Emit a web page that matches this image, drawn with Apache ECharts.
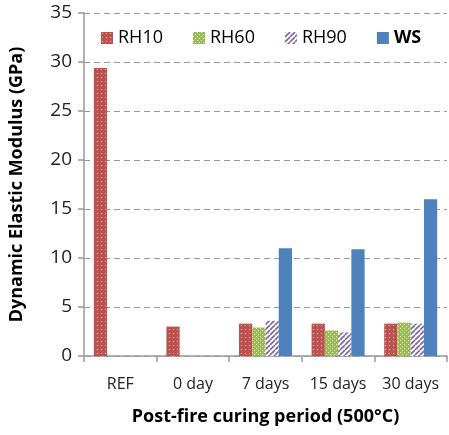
<!DOCTYPE html>
<html><head><meta charset="utf-8">
<script src="https://cdn.jsdelivr.net/npm/echarts@6/dist/echarts.min.js"></script>
<style>html,body{margin:0;padding:0;background:#fff}#c{width:449px;height:435px}</style>
</head><body><div id="c"></div>
<script>
const categories = ['REF', '0 day', '7 days', '15 days', '30 days'];
const seriesNames = ['RH10', 'RH60', 'RH90', 'WS'];
const rh10 = [29.4, 3.0, 3.3, 3.3, 3.3];
const rh60 = [null, null, 2.9, 2.6, 3.4];
const rh90 = [null, null, 3.6, 2.4, 3.3];
const ws = [null, null, 11.0, 10.9, 16.0];
const yTicks = [0, 5, 10, 15, 20, 25, 30, 35];

function dotPattern(bg, size, r) {
  const c = document.createElement('canvas'); c.width = size; c.height = size;
  const g = c.getContext('2d'); g.fillStyle = bg; g.fillRect(0, 0, size, size);
  g.fillStyle = 'rgba(255,255,255,0.85)';
  g.fillRect(1, 1, r, r);
  return c;
}
function greenPattern() {
  const c = document.createElement('canvas'); c.width = 4; c.height = 4;
  const g = c.getContext('2d'); g.fillStyle = '#9bbb59'; g.fillRect(0, 0, 4, 4);
  g.fillStyle = 'rgba(235,245,220,0.9)';
  g.fillRect(0, 0, 1, 1); g.fillRect(2, 2, 1, 1);
  return c;
}
function stripePattern() {
  const c = document.createElement('canvas'); c.width = 5; c.height = 5;
  const g = c.getContext('2d'); g.fillStyle = '#ffffff'; g.fillRect(0, 0, 5, 5);
  g.strokeStyle = '#8064a2'; g.lineWidth = 1.6;
  g.beginPath();
  for (let k = -5; k <= 10; k += 5) { g.moveTo(k, 5); g.lineTo(k + 5, 0); }
  g.stroke();
  return c;
}
const fills = [
  { image: dotPattern('#c0504d', 4, 1), repeat: 'repeat' },
  { image: greenPattern(), repeat: 'repeat' },
  { image: stripePattern(), repeat: 'repeat' },
  '#4f81bd'
];
const datas = [rh10, rh60, rh90, ws];

const chart = echarts.init(document.getElementById('c'));
const font = '"Open Sans", "Noto Sans", sans-serif';
chart.setOption({
  animation: false,
  textStyle: { fontFamily: font },
  grid: { left: 81, right: 2, top: 13, bottom: 79 },
  legend: {
    top: 24, left: 96, itemWidth: 12, itemHeight: 12, itemGap: 30,
    icon: 'rect',
    data: seriesNames.map((n, i) => ({ name: n, itemStyle: { color: fills[i] },
      textStyle: { fontWeight: n === 'WS' ? 'bold' : 'normal' } })),
    textStyle: { fontSize: 18, color: '#000', fontFamily: font }
  },
  xAxis: {
    type: 'category', data: categories,
    name: 'Post-fire curing period (500°C)', nameLocation: 'middle', nameGap: 52,
    nameTextStyle: { fontSize: 18, fontWeight: 'bold', color: '#000', fontFamily: font },
    axisLine: { lineStyle: { color: '#999', width: 1.5 } },
    axisTick: { show: true, length: 6, lineStyle: { color: '#999', width: 1.5 } },
    axisLabel: { interval: 0, fontSize: 16, color: '#222', margin: 20, fontFamily: font }
  },
  yAxis: {
    type: 'value', min: 0, max: 35, interval: 5,
    name: 'Dynamic Elastic Modulus (GPa)', nameLocation: 'middle', nameGap: 58,
    nameTextStyle: { fontSize: 18, fontWeight: 'bold', color: '#000', fontFamily: font },
    axisLine: { show: true, lineStyle: { color: '#999', width: 1.5 } },
    axisTick: { show: true, length: 6, inside: false, lineStyle: { color: '#999', width: 1.5 } },
    axisLabel: { fontSize: 19, color: '#222', margin: 12, fontFamily: font,
      formatter: v => yTicks.includes(v) ? String(v) : '' },
    splitLine: { lineStyle: { color: '#999', type: [6, 4], width: 1.2 } }
  },
  series: seriesNames.map((n, i) => ({
    name: n, type: 'bar', data: datas[i], barGap: '0%', barCategoryGap: '27%',
    itemStyle: { color: fills[i] }
  }))
});
</script></body></html>
